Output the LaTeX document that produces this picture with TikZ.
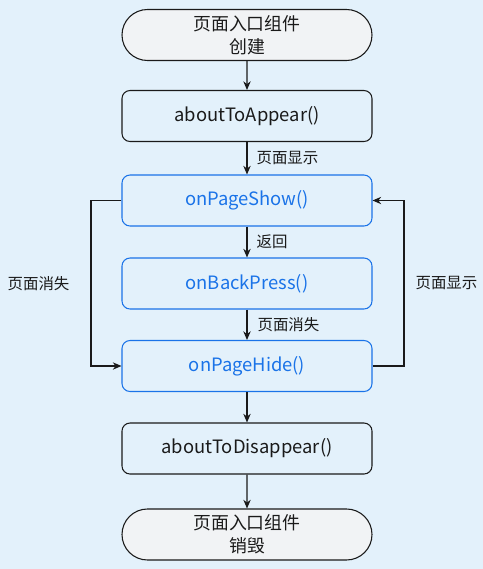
\documentclass[tikz,border=0pt]{standalone}
\usepackage{fontspec}
\setmainfont{Noto Sans CJK SC}
\usetikzlibrary{arrows.meta,shapes.misc}
\definecolor{bg}{HTML}{E3F1FB}
\definecolor{termfill}{HTML}{F1F3F5}
\definecolor{hblue}{HTML}{1A73E8}
\definecolor{ink}{HTML}{1A1A1A}
\tikzset{
  box/.style={draw=ink, line width=0.8pt, rounded corners=6pt, minimum width=250*0.75pt, minimum height=51*0.75pt, inner sep=0pt, font=\fontsize{13.8pt}{17pt}\selectfont, text=ink},
  bluebox/.style={box, draw=hblue, text=hblue},
  term/.style={draw=ink, line width=0.8pt, fill=termfill, rounded rectangle, rounded rectangle arc length=180, minimum width=250*0.75pt, minimum height=51*0.75pt, inner sep=0pt, align=center, font=\fontsize{13.4pt}{17pt}\selectfont, text=ink},
  conn/.style={draw=ink, line width=0.8pt, -{Stealth[length=6.5pt,width=5.5pt]}},
  lbl/.style={font=\fontsize{11.6pt}{14pt}\selectfont, text=ink, inner sep=0pt},
}
\begin{document}
\begin{tikzpicture}[x=0.75pt,y=-0.75pt]
\fill[bg] (0,0) rectangle (483,569);
\useasboundingbox (0,0) rectangle (483,569);
\node[term] (start) at (247,35) {页面入口组件\\创建};
\node[box] (appear) at (247,116) {aboutToAppear()};
\node[bluebox] (show) at (247,200.5) {onPageShow()};
\node[bluebox] (back) at (247,283.5) {onBackPress()};
\node[bluebox] (hide) at (247,366) {onPageHide()};
\node[box] (disappear) at (247,448.5) {aboutToDisappear()};
\node[term] (end) at (247,534.5) {页面入口组件\\销毁};
\draw[conn] (start) -- (appear);
\draw[conn] (appear) -- node[lbl, right=9*0.75pt] {页面显示} (show);
\draw[conn] (show) -- node[lbl, right=9*0.75pt] {返回} (back);
\draw[conn] (back) -- node[lbl, right=10*0.75pt] {页面消失} (hide);
\draw[conn] (hide) -- (disappear);
\draw[conn] (disappear) -- (end);
\coordinate (lx) at (91,0);
\coordinate (rx) at (404,0);
\draw[conn] (show.west) -- (show.west -| lx) -- node[lbl, left=21*0.75pt] {页面消失} (hide.west -| lx) -- (hide.west);
\draw[conn] (hide.east) -- (hide.east -| rx) -- node[lbl, right=11*0.75pt] {页面显示} (show.east -| rx) -- (show.east);
\end{tikzpicture}
\end{document}
